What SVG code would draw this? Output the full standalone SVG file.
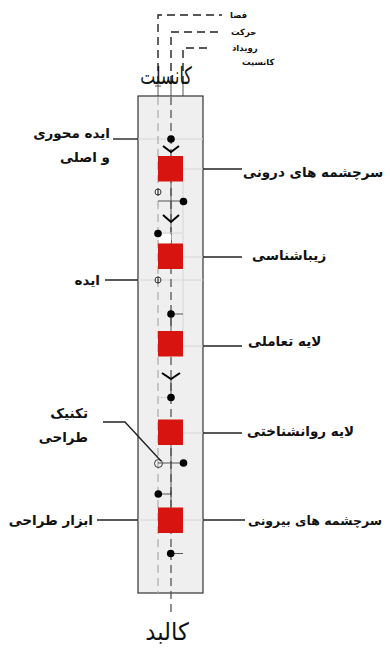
<svg xmlns="http://www.w3.org/2000/svg" width="390" height="648" viewBox="0 0 390 648">
<style>
.lbl{font-family:"DejaVu Sans",sans-serif;font-weight:bold;font-size:13.5px;fill:#111}
.sm{font-family:"DejaVu Sans",sans-serif;font-weight:bold;font-size:8.5px;fill:#111}
.big{font-family:"DejaVu Sans",sans-serif;font-size:24px;fill:#111}
.lead{stroke:#222;stroke-width:1.4;fill:none}
.faint{stroke:#d6d6d6;stroke-width:1;fill:none}
.dash{stroke:#222;stroke-width:1.4;stroke-dasharray:8 5;fill:none}
.sq{fill:#d7140f}
.dot{fill:#000}
.chev{stroke:#000;stroke-width:2;fill:none}
.sym{stroke:#222;stroke-width:0.9;fill:none}
.thin{stroke:#444;stroke-width:0.9;fill:none}
</style>
<rect width="390" height="648" fill="#fff"/>
<g id="top-lines">
<path class="dash" d="M158,84 V15 H222"/>
<path class="dash" d="M171,84 V32 H222"/>
<path class="dash" d="M183,84 V48 H212"/>
<path class="thin" d="M158,84 V96 M155,86 H161 M171,84 V96 M183,84 V96" stroke-width="1.4"/>
<text class="sm" x="230" y="18">فضا</text>
<text class="sm" x="231" y="35">حرکت</text>
<text class="sm" x="232" y="51">رویداد</text>
<text class="sm" x="242" y="65">کانسپت</text>
<text class="big" transform="translate(166,84) scale(0.66,1)" x="0" y="0" text-anchor="middle">کانسلت</text>
</g>
<g id="column">
<rect x="138" y="96" width="65" height="497" fill="#efefef" stroke="#333" stroke-width="1.2"/>
<path class="faint" d="M138,139 H203 M138,280 H203 M158,169 H203 M158,257 H203 M158,346 H203 M158,433 H203 M138,520 H203"/>
<path class="faint" d="M183,181 V243 M183,270 V331"/>
<line x1="158" y1="97" x2="158" y2="593" stroke="#aaa" stroke-width="1.2" stroke-dasharray="8 5"/>
<line x1="171" y1="97" x2="171" y2="617" stroke="#555" stroke-width="1.3" stroke-dasharray="8 5"/>
<path class="thin" d="M171,182 V243 M171,314 V331 M171,380 V398 M171,445 V507"/>
</g>
<g id="n1">
<circle class="dot" cx="171" cy="139" r="3.8"/>
<path class="chev" d="M163,146 L171,152 L179,146"/>
<rect class="sq" x="158" y="156" width="25" height="25.5"/>
</g>
<g id="n2">
<circle class="sym" cx="158" cy="192" r="3"/>
<line class="sym" x1="158" y1="188.5" x2="158" y2="195.5"/>
<path class="thin" d="M158,201 H183"/>
<circle class="dot" cx="183.5" cy="201.5" r="3.8"/>
<path class="chev" d="M163,215 L171,222 L179,215"/>
<path class="faint" d="M158,233 H183"/>
<rect x="159" y="234" width="12" height="9" fill="#fff"/>
<circle class="dot" cx="158" cy="233.5" r="3.8"/>
<rect class="sq" x="158" y="243.5" width="25" height="25.5"/>
</g>
<g id="n3">
<circle class="sym" cx="158" cy="280" r="3"/>
<line class="sym" x1="158" y1="276.5" x2="158" y2="283.5"/>
<path class="thin" d="M171,314 H183"/>
<circle class="dot" cx="171" cy="314" r="3.8"/>
<rect class="sq" x="158" y="331" width="25" height="25.5"/>
</g>
<g id="n4">
<path class="chev" d="M162,373 L171,379 L180,373"/>
<path class="faint" d="M158,397.5 H171"/>
<circle class="dot" cx="171" cy="397.5" r="3.8"/>
<rect class="sq" x="158" y="419.5" width="25" height="25.5"/>
</g>
<g id="n5">
<circle class="sym" cx="158.5" cy="463.5" r="4"/>
<path class="thin" d="M158,463 H183"/>
<circle class="dot" cx="183.5" cy="463" r="3.8"/>
<path class="thin" d="M158,494 H171 M171,491 V497"/>
<circle class="dot" cx="158.3" cy="494" r="3.8"/>
<rect class="sq" x="158" y="507.5" width="25" height="25.5"/>
<path class="thin" d="M171,553.5 H183"/>
<circle class="dot" cx="170.7" cy="553.5" r="3.8"/>
</g>
<g id="connectors">
<path class="lead" d="M113,139 H138"/>
<path class="lead" d="M203,169 H242"/>
<path class="lead" d="M203,257 H242"/>
<path class="lead" d="M105,280 H138"/>
<path class="lead" d="M203,346 H242"/>
<path class="lead" d="M203,433 H242"/>
<path class="lead" d="M103,422 H125 L161,461" stroke-width="1"/>
<path class="lead" d="M97,520 H138"/>
<path class="lead" d="M203,520 H245"/>
</g>
<g id="labels">
<text class="lbl" x="110" y="138" text-anchor="end">ایده محوری</text>
<text class="lbl" x="110" y="162" text-anchor="end">و اصلی</text>
<text class="lbl" x="243" y="177">سرچشمه های درونی</text>
<text class="lbl" x="252" y="260">زیباشناسی</text>
<text class="lbl" x="100" y="285" text-anchor="end">ایده</text>
<text class="lbl" x="248" y="346">لایه تعاملی</text>
<text class="lbl" x="88" y="418" text-anchor="end">تکنیک</text>
<text class="lbl" x="88" y="442" text-anchor="end">طراحی</text>
<text class="lbl" x="247" y="436">لایه روانشناختی</text>
<text class="lbl" x="93" y="525" text-anchor="end">ابزار طراحی</text>
<text class="lbl" x="248" y="525" style="font-size:12.5px">سرچشمه های بیرونی</text>
<text class="big" transform="translate(167,640) scale(0.95,1)" x="0" y="0" text-anchor="middle">کالبد</text>
</g>
</svg>
